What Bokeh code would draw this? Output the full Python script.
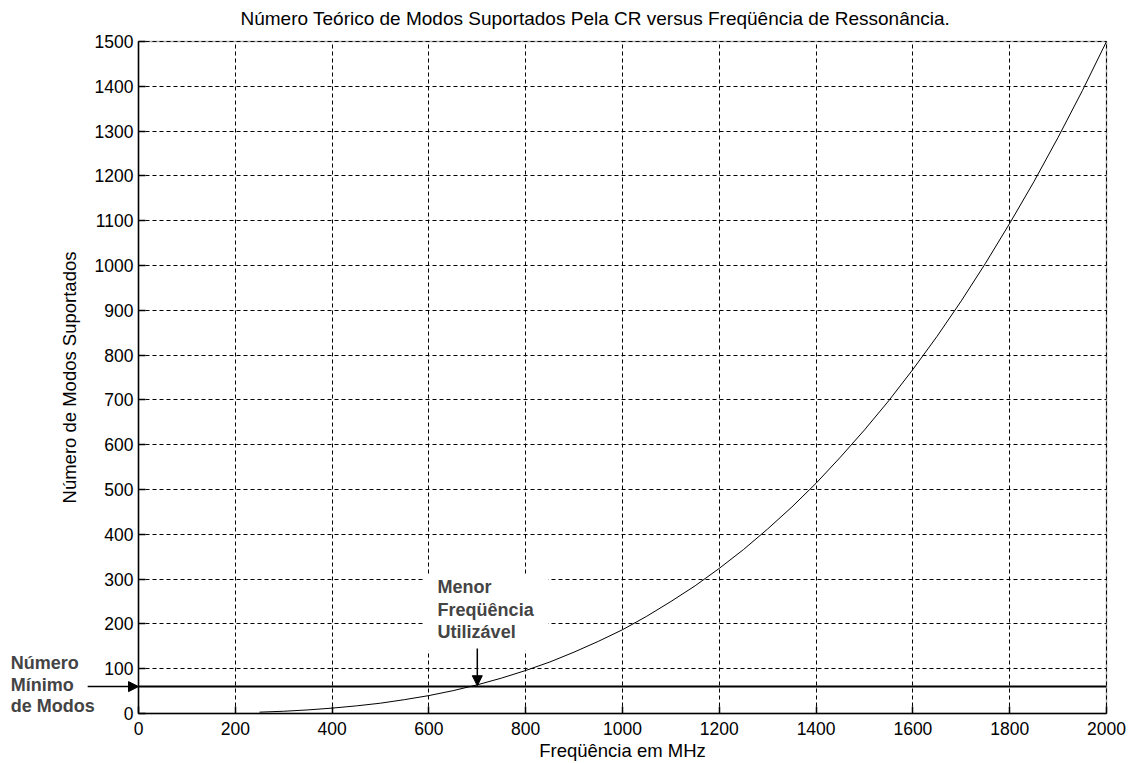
from bokeh.plotting import figure
from bokeh.models import Arrow, NormalHead, Label, BoxAnnotation, FixedTicker
from bokeh.embed import file_html
from bokeh.resources import INLINE

# Theoretical number of modes supported by the chamber vs. resonance frequency (MHz)
freq_mhz = [250, 300, 350, 400, 450, 500, 550, 600, 650, 700, 750, 800, 850,
            900, 950, 1000, 1050, 1100, 1150, 1200, 1250, 1300, 1350, 1400,
            1450, 1500, 1550, 1600, 1650, 1700, 1750, 1800, 1850, 1900, 1950,
            2000]
modes = [3, 5, 8, 12, 17, 23, 31, 40, 51, 64, 79, 96, 115,
         137, 161, 187, 217, 250, 285, 324, 366, 412, 461, 514,
         572, 633, 698, 768, 842, 921, 1005, 1094, 1187, 1286, 1390,
         1500]

# Minimum number of modes and lowest usable frequency
min_modes = 60
lowest_usable_freq = 700

x_ticks = [0, 200, 400, 600, 800, 1000, 1200, 1400, 1600, 1800, 2000]
y_ticks = [0, 100, 200, 300, 400, 500, 600, 700, 800, 900, 1000, 1100,
           1200, 1300, 1400, 1500]
x_min, x_max = 0, 2000
y_min, y_max = 0, 1500

FONT = "Liberation Sans"
W, H = 1130, 763

# The frame fills the whole canvas; axes are pinned at x = 0 / y = 0 so that
# the side notes and every label can live in data space without clipping.
BOX_L, BOX_R, BOX_T, BOX_B = 138, 1106, 41, 713
sx = (BOX_R - BOX_L) / (x_max - x_min)
sy = (BOX_B - BOX_T) / (y_max - y_min)
x_range = (x_min - BOX_L / sx, x_max + (W - BOX_R) / sx)
y_range = (y_min - (H - BOX_B) / sy, y_max + BOX_T / sy)

p = figure(width=W, height=H, x_range=x_range, y_range=y_range,
           output_backend="svg", toolbar_location=None, title=None,
           min_border_left=0, min_border_right=0,
           min_border_top=0, min_border_bottom=0)

p.outline_line_color = None
p.background_fill_color = "white"
p.border_fill_color = "white"

for ax in (p.xaxis[0], p.yaxis[0]):
    ax.major_label_text_font = FONT
    ax.major_label_text_font_size = "17.5px"
    ax.major_label_text_color = "black"
    ax.axis_label_text_font = FONT
    ax.axis_label_text_font_size = "18.5px"
    ax.axis_label_text_font_style = "normal"
    ax.axis_label_text_color = "black"
    ax.axis_line_width = 1.5
    ax.major_tick_in = 7
    ax.major_tick_out = 0
    ax.major_tick_line_width = 1.5
    ax.minor_tick_line_color = None

p.xaxis[0].ticker = FixedTicker(ticks=x_ticks)
p.xaxis[0].bounds = (x_min, x_max)
p.xaxis[0].fixed_location = y_min
p.yaxis[0].ticker = FixedTicker(ticks=y_ticks)
p.yaxis[0].bounds = (y_min, y_max)
p.yaxis[0].fixed_location = x_min
p.xaxis[0].axis_label = "Freqüência em MHz"
p.yaxis[0].axis_label = "Número de Modos Suportados"
p.xaxis[0].major_label_standoff = 8
p.xaxis[0].axis_label_standoff = 2
p.yaxis[0].major_label_standoff = 5
p.yaxis[0].axis_label_standoff = 12

# Dotted grid confined to the plot box
p.xgrid[0].ticker = FixedTicker(ticks=x_ticks)
p.ygrid[0].ticker = FixedTicker(ticks=y_ticks)
p.xgrid[0].cross_bounds = (y_min, y_max)
p.ygrid[0].cross_bounds = (x_min, x_max)
for g in (p.xgrid[0], p.ygrid[0]):
    g.grid_line_color = "black"
    g.grid_line_dash = "4 3"
    g.grid_line_width = 1

# White panel behind the lowest-usable-frequency note
p.add_layout(BoxAnnotation(left=590, right=847, bottom=140, top=310,
                           fill_color="white", fill_alpha=1.0, line_alpha=0,
                           level="underlay"))

# Plot box
p.add_layout(BoxAnnotation(left=x_min, right=x_max, bottom=y_min, top=y_max,
                           fill_alpha=0, line_color="black", line_width=1.5))

# Title
p.add_layout(Label(x=(240 - BOX_L) / sx, y=(BOX_B - 18) / sy,
                   text="Número Teórico de Modos Suportados Pela CR versus Freqüência de Ressonância.",
                   text_font=FONT, text_font_size="19px", text_baseline="middle",
                   text_color="black"))

# Curve
p.line(freq_mhz, modes, line_color="black", line_width=1)

# Minimum modes threshold, with the arrow coming in from the side note
p.line([x_min, x_max], [min_modes, min_modes], line_color="black", line_width=2)
p.add_layout(Arrow(x_start=-105, y_start=min_modes, x_end=x_min, y_end=min_modes,
                   line_color="black", line_width=1.5,
                   end=NormalHead(size=10, fill_color="black", line_color="black")))
p.add_layout(Label(x=-264, y=134, text="Número\nMínimo\nde Modos",
                   text_font=FONT, text_font_size="18px", text_font_style="bold",
                   text_baseline="top", text_line_height=1.07))

# Lowest usable frequency note
p.add_layout(Label(x=618, y=304, text="Menor\nFreqüência\nUtilizável",
                   text_font=FONT, text_font_size="18px", text_font_style="bold",
                   text_baseline="top", text_line_height=1.12))
p.add_layout(Arrow(x_start=lowest_usable_freq, y_start=145,
                   x_end=lowest_usable_freq, y_end=min_modes + 2,
                   line_color="black", line_width=1.5,
                   end=NormalHead(size=10, fill_color="black", line_color="black")))

open("out.html", "w").write(file_html(p, INLINE))
